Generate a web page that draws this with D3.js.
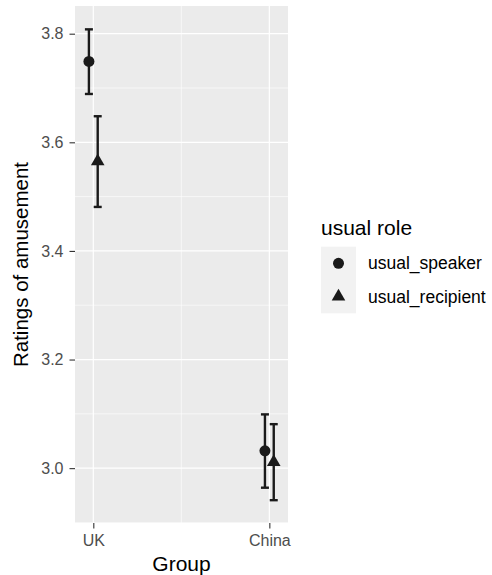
<!DOCTYPE html>
<html>
<head>
<meta charset="utf-8">
<script src="https://cdn.jsdelivr.net/npm/d3@7"></script>
<style>
  body { margin: 0; background: #fff; }
  svg { display: block; font-family: "Liberation Sans", Arial, sans-serif; }
</style>
</head>
<body>
<svg id="chart" width="492" height="575"></svg>
<script>
// Groups and roles
const groups = ["UK", "China"];
const roles = ["usual_speaker", "usual_recipient"];

// Mean ratings per role, in group order
const speakerMean = [3.749, 3.032];
const recipientMean = [3.565, 3.011];
// Error bar bounds
const speakerLow = [3.689, 2.964];
const speakerHigh = [3.808, 3.099];
const recipientLow = [3.481, 2.941];
const recipientHigh = [3.648, 3.081];

const yTicks = [3.0, 3.2, 3.4, 3.6, 3.8];

const svg = d3.select("#chart");
const panel = { left: 75, right: 288, top: 6, bottom: 523 };

const x = d3.scaleLinear().domain([0.896, 2.106]).range([panel.left, panel.right]);
const y = d3.scaleLinear().domain([2.899, 3.851]).range([panel.bottom, panel.top]);
const dodge = { usual_speaker: -0.025, usual_recipient: 0.025 };

const rows = [];
groups.forEach((g, i) => {
  rows.push({ group: g, pos: i + 1, role: "usual_speaker", mean: speakerMean[i], lo: speakerLow[i], hi: speakerHigh[i] });
  rows.push({ group: g, pos: i + 1, role: "usual_recipient", mean: recipientMean[i], lo: recipientLow[i], hi: recipientHigh[i] });
});

// Panel background
svg.append("rect")
  .attr("x", panel.left).attr("y", panel.top)
  .attr("width", panel.right - panel.left).attr("height", panel.bottom - panel.top)
  .attr("fill", "#EBEBEB");

// Minor gridlines
const yMinor = d3.range(yTicks.length - 1).map(i => (yTicks[i] + yTicks[i + 1]) / 2).concat([2.9]);
svg.append("g").selectAll("line").data(yMinor).join("line")
  .attr("x1", panel.left).attr("x2", panel.right)
  .attr("y1", d => y(d)).attr("y2", d => y(d))
  .attr("stroke", "#fff").attr("stroke-width", 0.6);
svg.append("g").selectAll("line").data([1.5]).join("line")
  .attr("y1", panel.top).attr("y2", panel.bottom)
  .attr("x1", d => x(d)).attr("x2", d => x(d))
  .attr("stroke", "#fff").attr("stroke-width", 0.6);

// Major gridlines
svg.append("g").selectAll("line").data(yTicks).join("line")
  .attr("x1", panel.left).attr("x2", panel.right)
  .attr("y1", d => y(d)).attr("y2", d => y(d))
  .attr("stroke", "#fff").attr("stroke-width", 1.2);
svg.append("g").selectAll("line").data([1, 2]).join("line")
  .attr("y1", panel.top).attr("y2", panel.bottom)
  .attr("x1", d => x(d)).attr("x2", d => x(d))
  .attr("stroke", "#fff").attr("stroke-width", 1.2);

// Axes
const yAxis = d3.axisLeft(y).tickValues(yTicks).tickFormat(d3.format(".1f")).tickSize(5.5).tickPadding(6);
const gy = svg.append("g").attr("transform", `translate(${panel.left},0)`).call(yAxis);
const xAxis = d3.axisBottom(x).tickValues([1, 2]).tickFormat((d, i) => groups[i]).tickSize(5.5).tickPadding(6);
const gx = svg.append("g").attr("transform", `translate(0,${panel.bottom})`).call(xAxis);
[gy, gx].forEach(g => {
  g.select(".domain").remove();
  g.selectAll(".tick line").attr("stroke", "#333").attr("stroke-width", 1.1);
  g.selectAll(".tick text").attr("fill", "#4D4D4D").attr("font-size", 16)
    .attr("font-family", "Liberation Sans, Arial, sans-serif");
});

// Axis titles
svg.append("text").attr("x", (panel.left + panel.right) / 2).attr("y", 571)
  .attr("text-anchor", "middle").attr("font-size", 21).attr("fill", "#000").text("Group");
svg.append("text").attr("transform", `translate(28,${(panel.top + panel.bottom) / 2}) rotate(-90)`)
  .attr("text-anchor", "middle").attr("font-size", 20.5).attr("fill", "#000").text("Ratings of amusement");

// Error bars
const ink = "#1A1A1A";
const capHalf = 4;
const eb = svg.append("g").attr("stroke", ink).attr("stroke-width", 2.4).attr("fill", "none");
rows.forEach(r => {
  const cx = x(r.pos + dodge[r.role]);
  eb.append("line").attr("x1", cx).attr("x2", cx).attr("y1", y(r.lo)).attr("y2", y(r.hi));
  eb.append("line").attr("x1", cx - capHalf).attr("x2", cx + capHalf).attr("y1", y(r.lo)).attr("y2", y(r.lo));
  eb.append("line").attr("x1", cx - capHalf).attr("x2", cx + capHalf).attr("y1", y(r.hi)).attr("y2", y(r.hi));
});

// Points
const shape = {
  usual_speaker: d3.symbol().type(d3.symbolCircle).size(Math.PI * 5.5 * 5.5),
  usual_recipient: d3.symbol().type(d3.symbolTriangle).size(80)
};
svg.append("g").selectAll("path").data(rows).join("path")
  .attr("d", d => shape[d.role]())
  .attr("transform", d => `translate(${x(d.pos + dodge[d.role])},${y(d.mean)})`)
  .attr("fill", ink);

// Legend
const lg = svg.append("g");
lg.append("text").attr("x", 321).attr("y", 235).attr("font-size", 21).attr("fill", "#000").text("usual role");
lg.append("rect").attr("x", 321).attr("y", 246.7).attr("width", 35).attr("height", 66.6).attr("fill", "#F2F2F2");
roles.forEach((r, i) => {
  const cy = 263.3 + i * 33.3;
  lg.append("path").attr("d", shape[r]()).attr("transform", `translate(338.5,${cy})`).attr("fill", ink);
  lg.append("text").attr("x", 368).attr("y", cy + 6).attr("font-size", 17.5).attr("fill", "#000").text(r);
});
</script>
</body>
</html>
